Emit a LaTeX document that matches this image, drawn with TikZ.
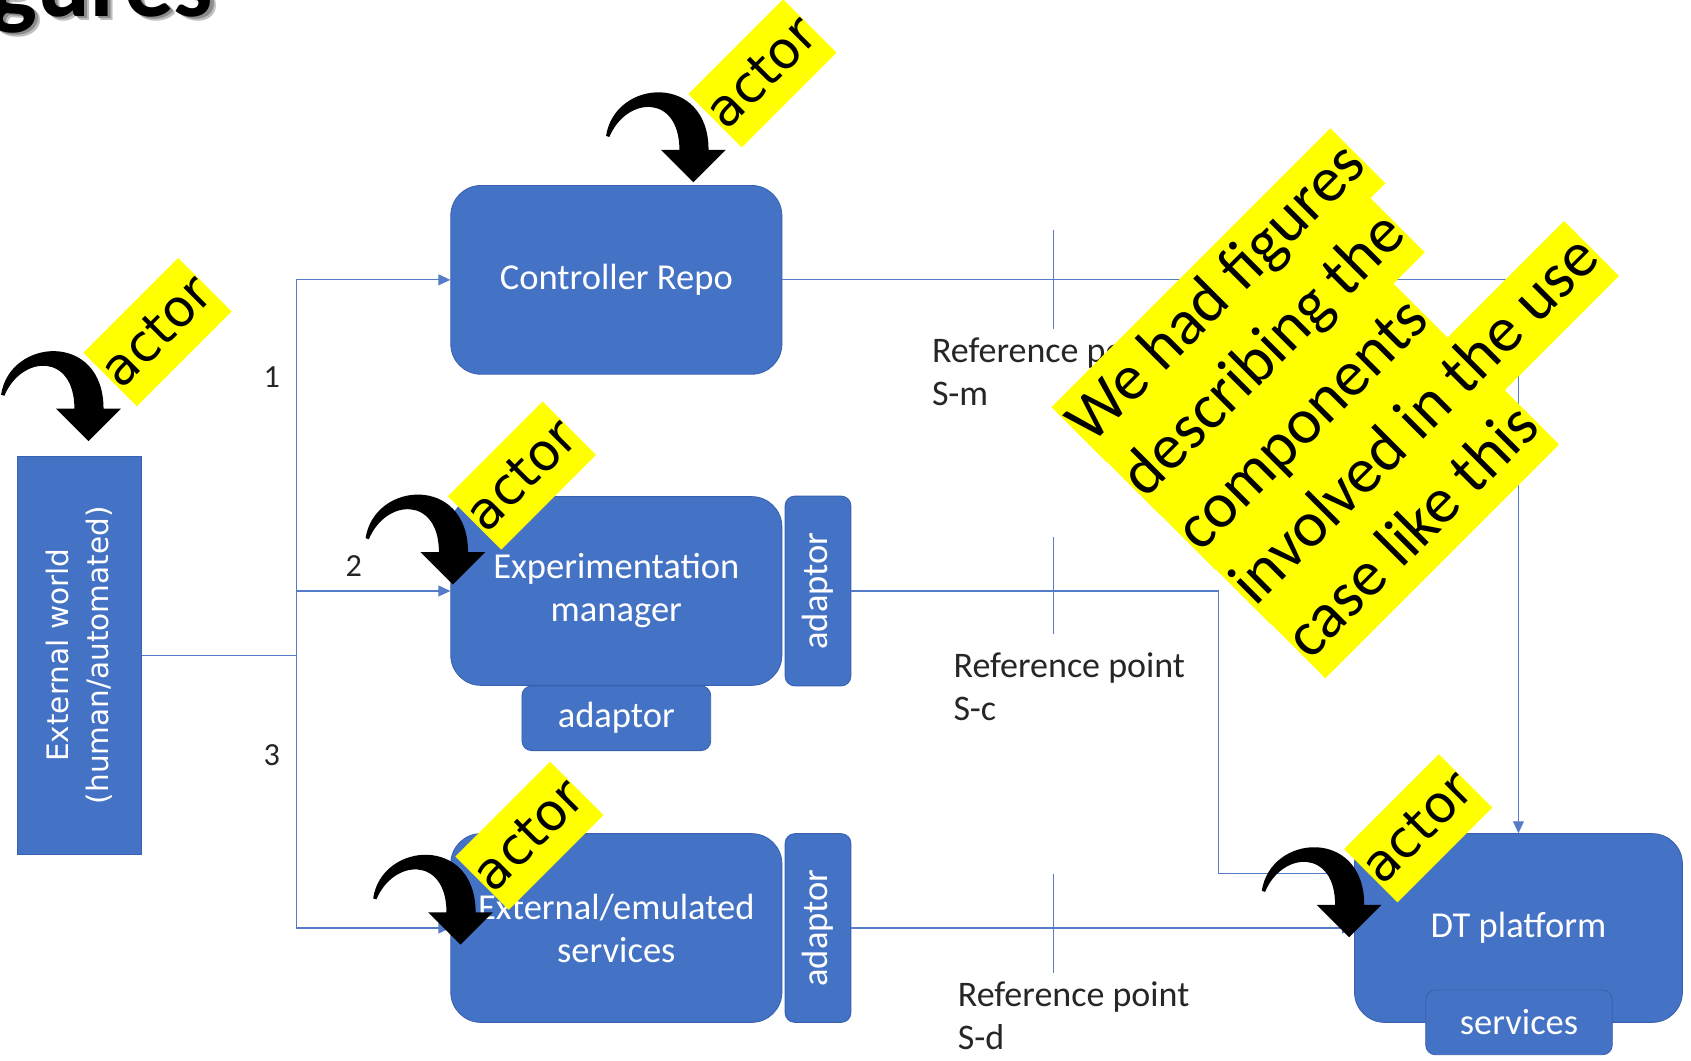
\documentclass[tikz,border=0pt]{standalone}
\usepackage{fontspec}
\setmainfont{Carlito}
\newfontfamily\dejavu{DejaVu Sans}
\usetikzlibrary{arrows.meta}

\definecolor{boxblue}{RGB}{68,114,196}
\definecolor{boxedge}{RGB}{56,98,176}
\definecolor{linkblue}{RGB}{84,124,200}
\definecolor{hilite}{RGB}{255,255,0}

% thick black bent arrow, tip at #1
\newcommand{\bentarrow}[1]{%
  \fill[black, shift={(#1)}]
    (-81,-43) .. controls (-73,-96) and (14,-102) .. (14,-30)
    -- (30,-30) -- (0,0) -- (-30,-30) -- (-13,-30)
    .. controls (-13,-82) and (-62,-80) .. (-78,-42) -- cycle;}

\tikzset{
  blk/.style={fill=boxblue, draw=boxedge, line width=0.8bp, rounded corners=28bp,
    text=white, font=\fontsize{34}{40}\selectfont, align=center, inner sep=0,
    minimum width=307bp, minimum height=175bp},
  tab/.style={fill=boxblue, draw=boxedge, line width=0.8bp, rounded corners=9bp,
    text=white, font=\fontsize{34}{38}\selectfont, inner sep=0},
  link/.style={draw=linkblue, line width=1bp},
  tip/.style={-{Triangle[length=11bp,width=10bp]}},
  reflabel/.style={font=\fontsize{33.5}{40}\selectfont, align=left, anchor=north west,
    inner sep=0, text=black!85},
  num/.style={font=\fontsize{30}{30}\selectfont, inner sep=0, text=black!85},
  actor/.style={fill=hilite, rotate=45, font=\dejavu\fontsize{48}{58}\selectfont,
    inner xsep=0.5bp, inner ysep=15bp, text height=35bp, text depth=5bp},
  noteline/.style={fill=hilite, rotate=45, anchor=west, font=\fontsize{60}{72}\selectfont,
    inner xsep=1bp, inner ysep=0, minimum height=72bp, text height=44bp, text depth=14bp},
}

\begin{document}
\begin{tikzpicture}[x=1bp, y=-1bp]
\useasboundingbox (0,0) rectangle (1568,983);
\clip (0,0) rectangle (1568,983);
\fill[white] (0,0) rectangle (1568,983);

% title fragment with its soft shadow
\node[font=\bfseries\fontsize{92}{92}\selectfont, anchor=base east, inner sep=0, text=black!25] (titleshadow) at (203,19) {gures};
\node[font=\bfseries\fontsize{92}{92}\selectfont, anchor=base east, inner sep=0, text=black!45] (titleshadow2) at (201,17.5) {gures};
\node[font=\bfseries\fontsize{92}{92}\selectfont, anchor=base east, inner sep=0] (title) at (198,15.5) {gures};

% components
\node[fill=boxblue, draw=boxedge, line width=0.8bp, rotate=90, minimum width=369bp, minimum height=115bp,
  inner sep=0, text=white, align=center, font=\dejavu\fontsize{27.5}{37}\selectfont] (ext) at (73.5,607.5)
  {External world\\(human/automated)};

\node[blk] (crepo) at (571.5,259.5) {Controller Repo};

\node[tab, minimum width=175bp, minimum height=60bp] (adB) at (571.5,666) {adaptor};
\node[blk] (expm) at (571.5,548) {Experimentation\\manager};
\node[tab, rotate=90, minimum width=176bp, minimum height=61bp] (adR1) at (758.5,548) {adaptor};

\node[blk] (exts) at (571.5,860.5) {External/emulated\\services};
\node[tab, rotate=90, minimum width=175bp, minimum height=61bp] (adR2) at (758.5,860.5) {adaptor};

\node[blk, minimum width=304bp] (dt) at (1408,860.5) {DT platform};
\node[tab, minimum width=173bp, minimum height=60bp] (svc) at (1408.5,948) {services};

% connectors
\coordinate (jn) at (275,607.5);
\draw[link] (ext.south) -- (jn);
\draw[link, tip] (jn) |- (crepo.west);
\draw[link, tip] (jn) |- (expm.west);
\draw[link, tip] (jn) |- (exts.west);
\draw[link, tip] (crepo.east) -| (dt.north);
\coordinate (bend) at (1130,810);
\draw[link, tip] (adR1.south) -| (bend) -- (bend -| dt.west);
\draw[link, tip] (adR2.south) -- (dt.west);

% reference point ticks
\coordinate (rmA) at (977,213); \coordinate (rmB) at (977,305);
\coordinate (rcA) at (977,498); \coordinate (rcB) at (977,588);
\coordinate (rdA) at (977,810); \coordinate (rdB) at (977,902);
\draw[link] (rmA) -- (rmB);
\draw[link] (rcA) -- (rcB);
\draw[link] (rdA) -- (rdB);

% labels
\node[num] (n1) at (252,350) {1};
\node[num] (n2) at (328,525) {2};
\node[num] (n3) at (252,700) {3};
\node[reflabel] (refm) at (864,313) {Reference point\\S-m};
\node[reflabel] (refc) at (884,605) {Reference point\\S-c};
\node[reflabel] (refd) at (888,910) {Reference point\\S-d};

% highlighted note
\node[noteline] (note1) at (1000.4,403.1) {We had figures};
\node[noteline] (note2) at (1051.1,453.2) {describing the};
\node[noteline] (note3) at (1101.8,503.4) {components};
\node[noteline] (note4) at (1152.6,553.5) {involved in the use};
\node[noteline] (note5) at (1203.3,603.6) {case like this};

% actor tags with their bent arrows
\node[actor] (actW) at (146,308) {actor};
\node[actor] (actC) at (707,68) {actor};
\node[actor] (actE) at (484,441) {actor};
\node[actor] (actS) at (491,775) {actor};
\node[actor] (actD) at (1315,768) {actor};
\path (actW.center) ++(-64,101) coordinate (tipW);
\path (actC.center) ++(-64,101) coordinate (tipC);
\path (actE.center) ++(-64,101) coordinate (tipE);
\path (actS.center) ++(-64,101) coordinate (tipS);
\path (actD.center) ++(-64,101) coordinate (tipD);
\bentarrow{tipW}
\bentarrow{tipC}
\bentarrow{tipE}
\bentarrow{tipS}
\bentarrow{tipD}
\end{tikzpicture}
\end{document}
